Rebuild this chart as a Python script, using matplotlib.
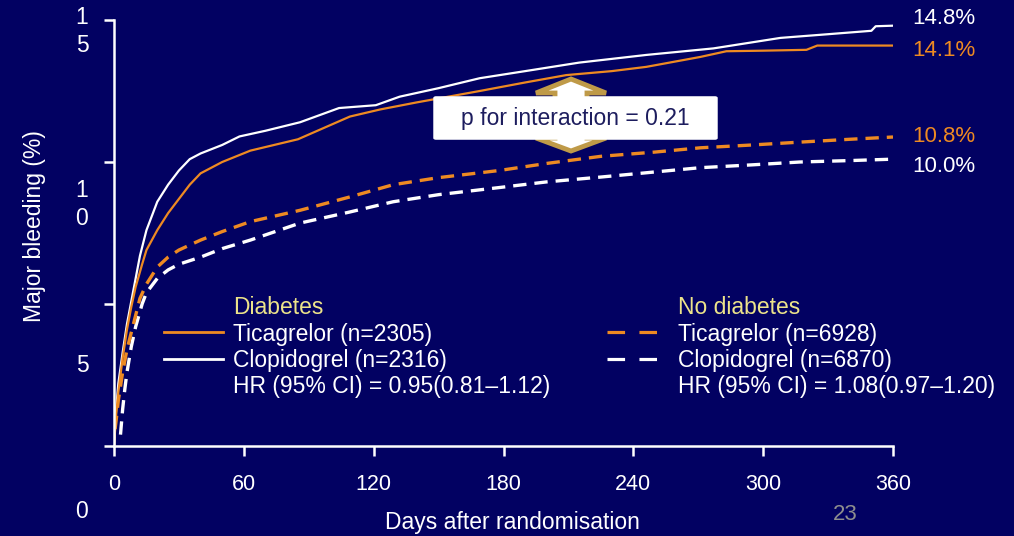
import matplotlib.pyplot as plt
from matplotlib.lines import Line2D
from matplotlib.patches import Polygon, FancyBboxPatch

plt.rcParams['font.family'] = ['Liberation Sans', 'DejaVu Sans']

BG = '#020162'
ORANGE = '#EE8A22'
YELLOW = '#ECE38A'
GOLD = '#BF9A48'

# Diabetes, Clopidogrel (white solid)
dm_clop_days = [0, 1, 2, 4, 6, 8, 10, 12, 15, 20, 25, 30, 35, 40, 50, 58, 70, 86, 104, 121,
                132, 150, 169, 190, 215, 246, 277, 308, 330, 350, 352, 360]
dm_clop_pct = [0, 1.3, 2.2, 3.3, 4.3, 5.1, 5.9, 6.7, 7.6, 8.6, 9.2, 9.7, 10.1, 10.3, 10.6, 10.9,
               11.1, 11.4, 11.9, 12.0, 12.3, 12.6, 12.95, 13.2, 13.5, 13.77, 14.0, 14.37, 14.5,
               14.62, 14.78, 14.8]

# Diabetes, Ticagrelor (orange solid)
dm_tica_days = [0, 1, 2, 4, 6, 8, 10, 13, 15, 20, 25, 30, 35, 40, 50, 63, 85, 109, 123, 140,
                169, 190, 209, 230, 246, 271, 283, 300, 320, 325, 360]
dm_tica_pct = [0, 1.1, 1.9, 3.1, 4.1, 4.9, 5.6, 6.4, 6.9, 7.6, 8.2, 8.7, 9.2, 9.6, 10.0, 10.4,
               10.8, 11.6, 11.85, 12.1, 12.5, 12.8, 13.06, 13.2, 13.35, 13.7, 13.9, 13.92, 13.95,
               14.1, 14.1]

# No diabetes, Ticagrelor (orange dashed)
nodm_tica_days = [0.5, 1, 2, 4, 6, 8, 10, 12, 15, 20, 25, 30, 40, 50, 63, 86, 109, 129, 150,
                  178, 200, 225, 250, 271, 295, 317, 340, 360]
nodm_tica_pct = [0.6, 0.9, 1.6, 2.6, 3.4, 4.0, 4.6, 5.2, 5.7, 6.3, 6.65, 6.9, 7.25, 7.55, 7.9,
                 8.3, 8.77, 9.2, 9.45, 9.7, 9.95, 10.2, 10.35, 10.5, 10.6, 10.7, 10.8, 10.88]

# No diabetes, Clopidogrel (white dashed)
nodm_clop_days = [3, 4, 5, 6, 8, 10, 13, 15, 20, 25, 30, 40, 50, 63, 86, 109, 129, 150, 178,
                  200, 225, 250, 271, 295, 317, 340, 360]
nodm_clop_pct = [0.4, 1.3, 2.0, 2.6, 3.5, 4.2, 5.0, 5.4, 5.9, 6.2, 6.4, 6.65, 6.95, 7.25, 7.85,
                 8.24, 8.6, 8.85, 9.1, 9.3, 9.47, 9.65, 9.8, 9.9, 10.0, 10.05, 10.1]

x_ticks = [0, 60, 120, 180, 240, 300, 360]
y_ticks = [0, 5, 10, 15]
end_labels = ['14.8%', '14.1%', '10.8%', '10.0%']

W, H = 1014, 536
fig = plt.figure(figsize=(W / 100, H / 100), dpi=100, facecolor=BG)


def fx(px):
    return px / W


def fy(py):
    return 1 - py / H


ax = fig.add_axes([fx(114), fy(446), fx(893) - fx(114), fy(20) - fy(446)])
ax.set_facecolor(BG)
ax.set_xlim(0, 360)
ax.set_ylim(0, 15)

dash = (4, 2.4)
ax.plot(nodm_clop_days, nodm_clop_pct, color='white', lw=2.4, dashes=dash, zorder=3)
ax.plot(nodm_tica_days, nodm_tica_pct, color=ORANGE, lw=2.4, dashes=dash, zorder=3)
ax.plot(dm_clop_days, dm_clop_pct, color='white', lw=1.6, zorder=4)
ax.plot(dm_tica_days, dm_tica_pct, color=ORANGE, lw=1.6, zorder=4)

for s in ['top', 'right']:
    ax.spines[s].set_visible(False)
for s in ['left', 'bottom']:
    ax.spines[s].set_color('white')
    ax.spines[s].set_linewidth(1.8)
ax.spines['left'].set_zorder(5)

ax.set_xticks(x_ticks)
ax.set_xticklabels([str(t) for t in x_ticks])
ax.set_yticks(y_ticks)
ax.set_yticklabels([])
ax.tick_params(axis='x', colors='white', length=7, width=1.8, pad=13, labelsize=15.5)
ax.tick_params(axis='y', colors='white', length=7, width=1.8)

# y tick labels are wrapped on the slide
fs = 16.5
fig.text(fx(82), fy(31.5), '1\n5', color='white', fontsize=fs, ha='center', va='center',
         linespacing=1.25)
fig.text(fx(82), fy(204.5), '1\n0', color='white', fontsize=fs, ha='center', va='center',
         linespacing=1.25)
fig.text(fx(82), fy(365), '5', color='white', fontsize=fs, ha='center', va='center')
fig.text(fx(82), fy(512), '0', color='white', fontsize=fs, ha='center', va='center')

fig.text(fx(35), fy(226), 'Major bleeding (%)', color='white', fontsize=fs, rotation=90,
         ha='center', va='center')
fig.text(fx(512), fy(523), 'Days after randomisation', color='white', fontsize=fs,
         ha='center', va='center')
fig.text(fx(845), fy(515), '23', color='#8E8E8E', fontsize=16, ha='center', va='center')

# end-of-curve labels
end_y = [18, 50, 136, 166]
end_c = ['white', ORANGE, ORANGE, 'white']
for lab, yy, cc in zip(end_labels, end_y, end_c):
    fig.text(fx(912), fy(yy), lab, color=cc, fontsize=16, ha='left', va='center')

# legends
rows = [308, 334, 360, 386]
fig.text(fx(233), fy(rows[0]), 'Diabetes', color=YELLOW, fontsize=fs, va='center')
fig.text(fx(233), fy(rows[1]), 'Ticagrelor (n=2305)', color='white', fontsize=fs, va='center')
fig.text(fx(233), fy(rows[2]), 'Clopidogrel (n=2316)', color='white', fontsize=fs, va='center')
fig.text(fx(233), fy(rows[3]), 'HR (95% CI) = 0.95(0.81\u20131.12)', color='white',
         fontsize=fs, va='center')
fig.add_artist(Line2D([fx(164), fx(223)], [fy(332), fy(332)], color=ORANGE, lw=2))
fig.add_artist(Line2D([fx(164), fx(223)], [fy(359), fy(359)], color='white', lw=2))

fig.text(fx(678), fy(rows[0]), 'No diabetes', color=YELLOW, fontsize=fs, va='center')
fig.text(fx(678), fy(rows[1]), 'Ticagrelor (n=6928)', color='white', fontsize=fs, va='center')
fig.text(fx(678), fy(rows[2]), 'Clopidogrel (n=6870)', color='white', fontsize=fs, va='center')
fig.text(fx(678), fy(rows[3]), 'HR (95% CI) = 1.08(0.97\u20131.20)', color='white',
         fontsize=fs, va='center')
fig.add_artist(Line2D([fx(607), fx(668)], [fy(332), fy(332)], color=ORANGE, lw=2.3,
                      dashes=(5.5, 4.5)))
fig.add_artist(Line2D([fx(607), fx(668)], [fy(359), fy(359)], color='white', lw=2.3,
                      dashes=(5.5, 4.5)))

# interaction arrows and box
up = [(571, 79), (606, 93), (587, 93), (587, 102), (555, 102), (555, 93), (536, 93)]
down = [(555, 132), (587, 132), (587, 138), (606, 138), (571, 151), (536, 138), (555, 138)]
for shape in (up, down):
    fig.add_artist(Polygon([(fx(a), fy(b)) for a, b in shape], closed=True,
                           facecolor='white', edgecolor=GOLD, lw=3.5, zorder=6))
box = FancyBboxPatch((fx(436), fy(138)), fx(715) - fx(436), fy(98) - fy(138),
                     boxstyle='round,pad=0.002', facecolor='white', edgecolor='white',
                     transform=fig.transFigure, zorder=7)
fig.add_artist(box)
fig.text(fx(575), fy(119), 'p for interaction = 0.21', color='#1D1D5E', fontsize=fs,
         ha='center', va='center', zorder=8)

fig.savefig('out.png', dpi=100, facecolor=BG)
